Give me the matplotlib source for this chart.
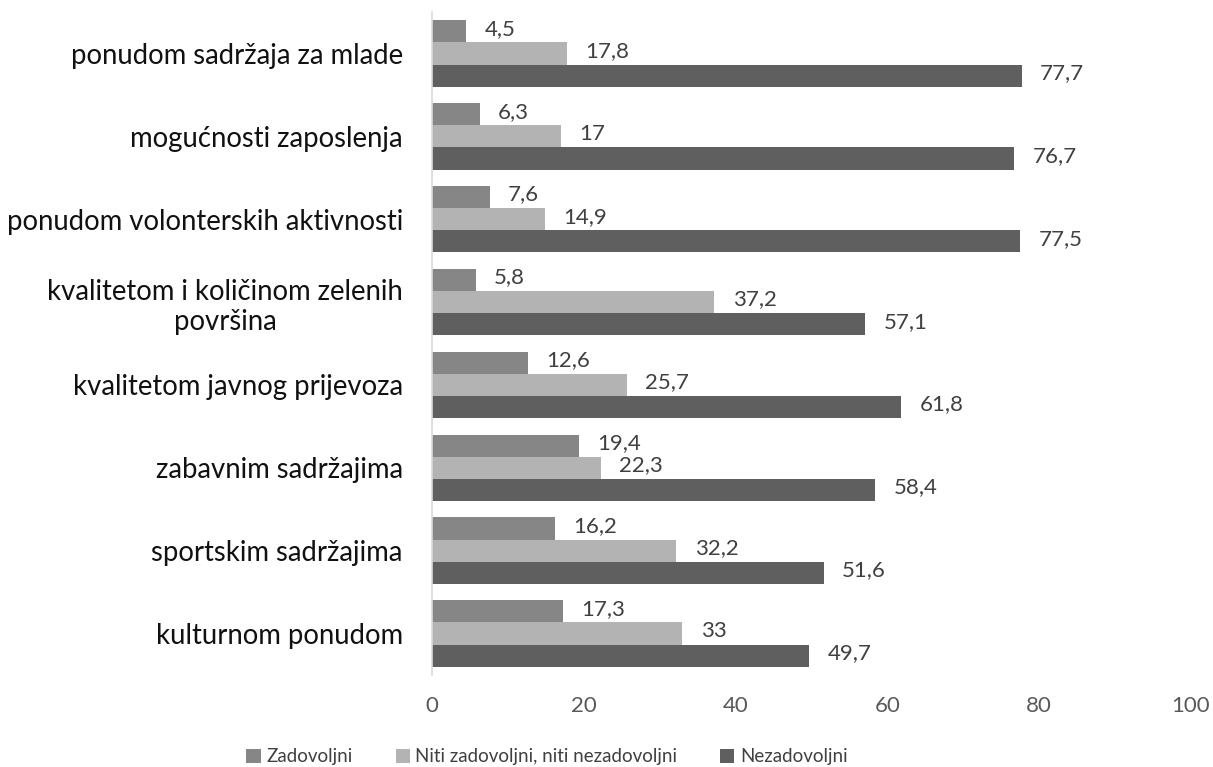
import matplotlib
matplotlib.use("Agg")
import matplotlib.pyplot as plt
import numpy as np

categories = [
    "ponudom sadržaja za mlade",
    "mogućnosti zaposlenja",
    "ponudom volonterskih aktivnosti",
    "kvalitetom i količinom zelenih\npovršina",
    "kvalitetom javnog prijevoza",
    "zabavnim sadržajima",
    "sportskim sadržajima",
    "kulturnom ponudom",
]
zadovoljni = [4.5, 6.3, 7.6, 5.8, 12.6, 19.4, 16.2, 17.3]
niti = [17.8, 17, 14.9, 37.2, 25.7, 22.3, 32.2, 33]
nezadovoljni = [77.7, 76.7, 77.5, 57.1, 61.8, 58.4, 51.6, 49.7]
series_names = ["Zadovoljni", "Niti zadovoljni, niti nezadovoljni", "Nezadovoljni"]
colors = ["#868686", "#b3b3b3", "#5f5f5f"]
xticks = [0, 20, 40, 60, 80, 100]

plt.rcParams['font.family'] = ['Lato', 'DejaVu Sans']

fig = plt.figure(figsize=(12.13, 7.67), dpi=100)
ax = fig.add_axes([432/1213, 1-675/767, (1191-432)/1213, (675-12)/767])

n = len(categories)
pos = np.arange(n)
bh = 0.267
series = [zadovoljni, niti, nezadovoljni]
offsets = [-bh, 0, bh]
handles = []
for vals, off, c, name in zip(series, offsets, colors, series_names):
    b = ax.barh(pos + off, vals, height=bh, color=c, label=name)
    handles.append(b)
    for y, v in zip(pos + off, vals):
        s = ("%g" % v).replace(".", ",")
        ax.text(v + 2.4, y - 0.03, s, va="center", ha="left", fontsize=16, color="#404040")

ax.set_ylim(n - 0.5, -0.5)
ax.set_xlim(0, 100)
ax.set_yticks(pos)
ax.set_yticklabels(categories, fontsize=19.8, color="#111111", multialignment="center")
ax.set_xticks(xticks)
ax.set_xticklabels([str(t) for t in xticks], fontsize=16, color="#595959")
ax.tick_params(axis="both", length=0)
ax.tick_params(axis="x", pad=15)
ax.tick_params(axis="y", pad=21)
for s in ["top", "right", "bottom"]:
    ax.spines[s].set_visible(False)
ax.spines["left"].set_color("#d9d9d9")
ax.spines["left"].set_linewidth(1.2)

fig.legend(handles=handles, labels=series_names, loc="lower center",
           bbox_to_anchor=(0.451, -0.02), ncol=3, frameon=False, fontsize=13.5,
           handlelength=0.75, handleheight=0.75, handletextpad=0.3, columnspacing=2.3,
           labelcolor="#404040")

fig.savefig("out.png", dpi=100)
